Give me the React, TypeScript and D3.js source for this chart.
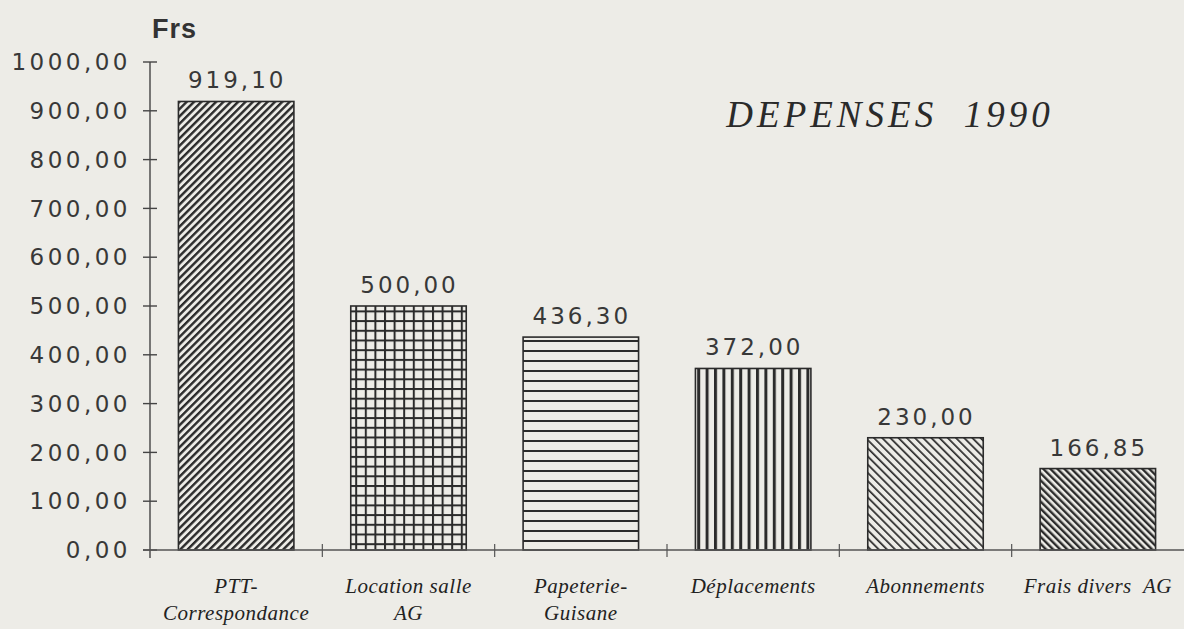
import React, { useEffect, useRef } from 'react';
import * as d3 from 'd3';

const categories = [
    ['PTT-', 'Correspondance'],
    ['Location salle', 'AG'],
    ['Papeterie-', 'Guisane'],
    ['Déplacements'],
    ['Abonnements'],
    ['Frais divers  AG'],
];
const values = [919.10, 500.00, 436.30, 372.00, 230.00, 166.85];
const yTicks = [0, 100, 200, 300, 400, 500, 600, 700, 800, 900, 1000];
const patternIds = ['p-diag-up', 'p-grid', 'p-horiz', 'p-vert', 'p-diag-down', 'p-diag-down-dense'];

const W = 1184, H = 629;
const ink = '#2b2b2b';
const paper = '#edece7';
const fmt = (v: number) => v.toFixed(2).replace('.', ',');

export default function App() {
    const ref = useRef<SVGSVGElement>(null);

    useEffect(() => {
        if (!ref.current) return;
        const svg = d3.select(ref.current);
        svg.selectAll('*').remove();

        // set the dimensions and margins of the graph
        const margin = {top: 62, right: 0, bottom: 79, left: 150};
        const x0 = margin.left, x1 = W - margin.right;
        const yBase = H - margin.bottom;

        svg.append('rect').attr('width', W).attr('height', H).attr('fill', paper);

        // hatch patterns
        const defs = svg.append('defs');
        const hatch = (id: string, size: number, lw: number, angle: number) => {
            const p = defs.append('pattern')
                .attr('id', id)
                .attr('patternUnits', 'userSpaceOnUse')
                .attr('width', size).attr('height', size)
                .attr('patternTransform', 'rotate(' + angle + ')');
            p.append('rect').attr('width', size).attr('height', size).attr('fill', paper);
            p.append('rect').attr('x', 0).attr('width', lw).attr('height', size).attr('fill', ink);
        };
        hatch('p-diag-up', 5.2, 2.4, 45);
        hatch('p-vert', 8.4, 3, 0);
        hatch('p-horiz', 10, 2, 90);
        hatch('p-diag-down', 5.8, 1.7, -45);
        hatch('p-diag-down-dense', 5.0, 2.4, -45);
        const g = defs.append('pattern')
            .attr('id', 'p-grid')
            .attr('patternUnits', 'userSpaceOnUse')
            .attr('width', 9.6).attr('height', 9.7);
        g.append('rect').attr('width', 9.6).attr('height', 9.7).attr('fill', paper);
        g.append('rect').attr('width', 2).attr('height', 9.7).attr('fill', ink);
        g.append('rect').attr('width', 9.6).attr('height', 2).attr('fill', ink);

        // set the ranges
        const x = d3.scaleBand<number>()
            .domain(d3.range(values.length))
            .range([x0, x1])
            .paddingInner(0.33)
            .paddingOuter(0.165);

        const y = d3.scaleLinear()
            .domain([0, 1000])
            .range([yBase, margin.top]);

        // bars
        svg.selectAll('rect.bar')
            .data(values)
            .enter().append('rect')
            .attr('class', 'bar')
            .attr('x', (d, i) => x(i)!)
            .attr('y', d => y(d))
            .attr('width', x.bandwidth())
            .attr('height', d => yBase - y(d))
            .attr('fill', (d, i) => 'url(#' + patternIds[i] + ')')
            .attr('stroke', ink)
            .attr('stroke-width', 1.6);

        const numFont = 'DejaVu Sans, Arial, sans-serif';

        // value labels
        svg.selectAll('text.val')
            .data(values)
            .enter().append('text')
            .attr('class', 'val')
            .attr('x', (d, i) => x(i)! + x.bandwidth() / 2 + 1)
            .attr('y', d => y(d) - 13)
            .attr('text-anchor', 'middle')
            .attr('font-family', numFont)
            .attr('font-size', 23)
            .attr('letter-spacing', 3)
            .attr('fill', '#383838')
            .text(d => fmt(d));

        // Y axis
        svg.append('line')
            .attr('x1', x0).attr('x2', x0)
            .attr('y1', y(1000)).attr('y2', yBase + 8)
            .attr('stroke', '#444').attr('stroke-width', 1.4);
        const yt = svg.append('g');
        yt.selectAll('line')
            .data(yTicks)
            .enter().append('line')
            .attr('x1', x0 - 7).attr('x2', x0 + 7)
            .attr('y1', d => y(d)).attr('y2', d => y(d))
            .attr('stroke', '#444').attr('stroke-width', 1.4);
        yt.selectAll('text')
            .data(yTicks)
            .enter().append('text')
            .attr('x', x0 - 19)
            .attr('y', d => y(d))
            .attr('dy', '0.36em')
            .attr('text-anchor', 'end')
            .attr('font-family', numFont)
            .attr('font-size', 23)
            .attr('letter-spacing', 3.5)
            .attr('fill', '#383838')
            .text(d => fmt(d));

        // X axis
        svg.append('line')
            .attr('x1', x0 - 7).attr('x2', x1)
            .attr('y1', yBase).attr('y2', yBase)
            .attr('stroke', '#555').attr('stroke-width', 1.4);
        const bounds = d3.range(1, values.length).map(i => x(i)! - x.step() * x.paddingInner() / 2);
        svg.append('g').selectAll('line')
            .data(bounds)
            .enter().append('line')
            .attr('x1', d => d).attr('x2', d => d)
            .attr('y1', yBase - 6).attr('y2', yBase + 7)
            .attr('stroke', '#555').attr('stroke-width', 1.2);

        // category labels
        const cat = svg.append('g').selectAll('text')
            .data(categories)
            .enter().append('text')
            .attr('x', (d, i) => x(i)! + x.bandwidth() / 2)
            .attr('y', yBase + 43)
            .attr('text-anchor', 'middle')
            .attr('font-family', 'Liberation Serif, serif')
            .attr('font-style', 'italic')
            .attr('font-size', 21)
            .attr('letter-spacing', 0.5)
            .attr('fill', '#222')
            .attr('xml:space', 'preserve');
        cat.selectAll('tspan')
            .data(d => d)
            .enter().append('tspan')
            .attr('x', function () { return (this.parentNode as SVGTextElement).getAttribute('x'); })
            .attr('dy', (d, i) => i === 0 ? 0 : 27)
            .text(d => d);

        // axis title & chart title
        svg.append('text')
            .attr('x', 152).attr('y', 38)
            .attr('font-family', 'Liberation Sans, Arial, sans-serif')
            .attr('font-weight', 'bold')
            .attr('font-size', 27)
            .attr('letter-spacing', 1)
            .attr('fill', '#333')
            .text('Frs');
        svg.append('text')
            .attr('x', 890).attr('y', 127)
            .attr('text-anchor', 'middle')
            .attr('font-family', 'Liberation Serif, serif')
            .attr('font-style', 'italic')
            .attr('font-size', 37)
            .attr('letter-spacing', 4)
            .attr('fill', '#2a2a2a')
            .attr('xml:space', 'preserve')
            .text('DEPENSES  1990');
    }, []);

    return (
        <svg ref={ref} width={W} height={H}
            style={{position: 'absolute', left: 0, top: 0, display: 'block'}} />
    );
}
